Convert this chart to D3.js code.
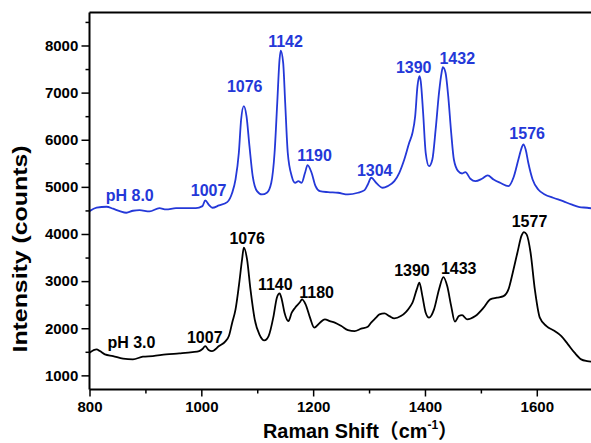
<!DOCTYPE html>
<html>
<head>
<meta charset="utf-8">
<script src="https://cdn.jsdelivr.net/npm/d3@7"></script>
<style>
  html, body { margin: 0; padding: 0; background: #ffffff; }
  svg { display: block; }
</style>
</head>
<body>
<svg id="chart" width="591" height="443"></svg>
<script>
// Raman spectra of the same sample at two pH values (shift in cm^-1, intensity in counts)
const shiftPH8 = [800, 812.7, 830.5, 842.2, 854.1, 866, 877.7, 889.6, 907.4, 925.1, 937, 954.7, 972.5, 990.2,
  1002, 1007, 1013.9, 1019.7, 1031.6, 1046.3, 1055.2, 1061.2, 1067.1, 1071.2, 1076, 1080.8, 1086.1, 1091.9,
  1099.6, 1108.4, 1117.3, 1125.1, 1131, 1135.8, 1139.9, 1142, 1146.4, 1150, 1154.6, 1161.7, 1167.7, 1173.6,
  1179.4, 1185.5, 1190, 1197.2, 1204.3, 1212.1, 1226.8, 1244.6, 1262.3, 1280.1, 1292, 1297.8, 1304, 1312.6,
  1324.5, 1333.3, 1345.2, 1354.1, 1363, 1371.8, 1377.7, 1382.5, 1386.6, 1390, 1392.4, 1396.7, 1401.3, 1407.3,
  1413.2, 1419.1, 1425.1, 1429.7, 1432, 1436.8, 1441.6, 1446.9, 1451.7, 1459.4, 1466.4, 1472.3, 1481.2, 1490.1,
  1501.9, 1512.1, 1522.7, 1534.4, 1549.3, 1558.2, 1567.1, 1572.9, 1576, 1580.1, 1584.8, 1592.5, 1602.6, 1614.3,
  1629.2, 1647, 1661.7, 1676.4, 1690.1, 1700];
const intensityPH8 = [4485, 4557, 4578, 4536, 4485, 4451, 4493, 4506, 4478, 4548, 4521, 4548, 4548, 4548,
  4591, 4712, 4612, 4557, 4606, 4676, 4875, 5157, 5723, 6430, 6712, 6500, 5863, 5227,
  4909, 4839, 4875, 5087, 5723, 6784, 7702, 7893, 7632, 6784, 5723, 5227, 5087, 5121,
  5087, 5299, 5460, 5299, 5015, 4909, 4888, 4875, 4839, 4875, 4930, 5051, 5193, 5087,
  4981, 5015, 5121, 5299, 5581, 5935, 6148, 6500, 7136, 7348, 7242, 6572, 5723, 5439,
  5581, 6218, 6996, 7420, 7539, 7420, 6924, 6148, 5581, 5333, 5284, 5312, 5172, 5121,
  5172, 5242, 5157, 5087, 5015, 5193, 5581, 5829, 5900, 5793, 5511, 5157, 4945, 4839,
  4769, 4697, 4627, 4570, 4557, 4540];

const shiftPH3 = [800, 812.7, 818.6, 827.5, 842.2, 860, 877.7, 895.5, 913.2, 937, 960.6, 984.2, 996.1, 1002,
  1007, 1013, 1019, 1031.6, 1043.5, 1049.3, 1055.2, 1061.2, 1067.1, 1072.9, 1076, 1081.8, 1087.9, 1095.5,
  1103.8, 1112.7, 1120.3, 1129.2, 1135.1, 1140, 1143.9, 1148.8, 1155.8, 1161.7, 1167.7, 1176.6, 1180, 1186.5,
  1194.4, 1202, 1212.1, 1221, 1229.8, 1238.7, 1250.4, 1262.3, 1274.2, 1285.9, 1297.8, 1303.7, 1312.6, 1318.6,
  1327.5, 1336.3, 1345.2, 1356.9, 1365.8, 1372.4, 1377.7, 1385.3, 1390, 1395.4, 1401.3, 1407.3, 1416.2, 1425.1,
  1433, 1439.8, 1446.9, 1453.5, 1460.6, 1466.4, 1475.3, 1490.1, 1504.9, 1516.7, 1528.6, 1540.5, 1549.3, 1557,
  1565.3, 1572.9, 1577, 1581.8, 1588.9, 1596.5, 1605.4, 1617.3, 1632, 1643.9, 1655.8, 1667.5, 1679.4, 1690.1, 1700];
const intensityPH3 = [1481, 1551, 1515, 1445, 1409, 1354, 1339, 1397, 1409, 1445, 1467, 1494, 1515, 1560,
  1621, 1537, 1515, 1621, 1727, 1834, 2118, 2400, 2894, 3460, 3709, 3460, 2824, 2188,
  1870, 1742, 1834, 2258, 2648, 2739, 2612, 2330, 2152, 2330, 2436, 2555, 2612, 2506,
  2224, 2012, 2118, 2188, 2152, 2118, 2046, 1961, 1940, 1991, 2033, 2118, 2224, 2294,
  2315, 2258, 2209, 2258, 2343, 2442, 2542, 2824, 2966, 2682, 2330, 2224, 2400, 2824,
  3085, 2894, 2470, 2139, 2258, 2279, 2188, 2258, 2436, 2612, 2648, 2682, 2824, 3178,
  3602, 3969, 4039, 3991, 3602, 2824, 2224, 2046, 1940, 1834, 1658, 1481, 1339, 1303, 1290];

// Peak positions marked on each spectrum
const peaksPH8 = [1007, 1076, 1142, 1190, 1304, 1390, 1432, 1576];
const peaksPH3 = [1007, 1076, 1140, 1180, 1390, 1433, 1577];
const seriesNames = ["pH 8.0", "pH 3.0"];

// Axis ticks
const xTicks = [800, 1000, 1200, 1400, 1600];
const xMinorTicks = [900, 1100, 1300, 1500, 1700];
const yTicks = [1000, 2000, 3000, 4000, 5000, 6000, 7000, 8000];
const yMinorTicks = [1500, 2500, 3500, 4500, 5500, 6500, 7500, 8500];

// ---- layout ----
const colors = { ph8: "#2438d8", ph3: "#000000" };
const plotLeft = 89.5, plotRight = 592.7, plotTop = 12.5, plotBottom = 389.5;
// label nudges (pixels) relative to each peak: [dx, height above peak]
const ph8LabelNudge = [[3.3, 4], [0.9, 14], [4.8, 4], [7, 4.5], [3.4, 1.5], [-5.7, 3.5], [14.4, 3], [3.8, 5]];
const ph3LabelNudge = [[-0.5, 3.5], [3.4, 3.5], [-4.3, 3.5], [14.7, 1.5], [-7.4, 6.5], [15.3, 3], [5.6, 5]];
const seriesLabelAt = [[872, 4690], [875, 1574]];

const svg = d3.select("#chart");
const x = d3.scaleLinear().domain([800, 1700]).range([plotLeft, plotRight]);
const y = d3.scaleLinear().domain([700, 8700]).range([plotBottom, plotTop]);

svg.append("defs").append("clipPath").attr("id", "plot-clip")
  .append("rect").attr("x", plotLeft).attr("y", plotTop)
  .attr("width", plotRight - plotLeft).attr("height", plotBottom - plotTop);

const line = d3.line().curve(d3.curveMonotoneX).x(d => x(d[0])).y(d => y(d[1]));
const ph8 = shiftPH8.map((s, i) => [s, intensityPH8[i]]);
const ph3 = shiftPH3.map((s, i) => [s, intensityPH3[i]]);

const plot = svg.append("g").attr("clip-path", "url(#plot-clip)");
plot.append("path").datum(ph8).attr("d", line)
  .attr("fill", "none").attr("stroke", colors.ph8).attr("stroke-width", 1.8).attr("stroke-linejoin", "round");
plot.append("path").datum(ph3).attr("d", line)
  .attr("fill", "none").attr("stroke", colors.ph3).attr("stroke-width", 1.8).attr("stroke-linejoin", "round");

// ---- axes ----
const tickFont = "'Liberation Sans', Arial, sans-serif";
const xAxis = svg.append("g").attr("transform", `translate(0,${plotBottom})`)
  .call(d3.axisBottom(x).tickValues(xTicks).tickSize(7).tickPadding(5.2).tickFormat(d3.format("d")));
svg.append("g").attr("transform", `translate(0,${plotBottom})`)
  .call(d3.axisBottom(x).tickValues(xMinorTicks).tickSize(4).tickFormat(""))
  .call(g => g.select(".domain").remove());
const yAxis = svg.append("g").attr("transform", `translate(${plotLeft},0)`)
  .call(d3.axisLeft(y).tickValues(yTicks).tickSize(8).tickPadding(3.2).tickFormat(d3.format("d")));
svg.append("g").attr("transform", `translate(${plotLeft},0)`)
  .call(d3.axisLeft(y).tickValues(yMinorTicks).tickSize(4).tickFormat(""))
  .call(g => g.select(".domain").remove());

svg.selectAll(".tick line").attr("stroke", "#000").attr("stroke-width", 1.5);
[xAxis, yAxis].forEach(a => {
  a.select(".domain").attr("stroke", "#000").attr("stroke-width", 2);
  a.selectAll("text").attr("font-family", tickFont).attr("font-weight", "bold")
    .attr("font-size", 15).attr("fill", "#000");
});
xAxis.select(".domain").attr("d", `M${plotLeft},0H${plotRight + 5}`);
yAxis.select(".domain").attr("d", `M0,${plotBottom}V${plotTop}`);

// top frame edge
svg.append("line").attr("x1", plotLeft).attr("x2", plotRight + 5).attr("y1", plotTop).attr("y2", plotTop)
  .attr("stroke", "#000").attr("stroke-width", 2);

// ---- peak annotations ----
function valueAt(shifts, values, s) {
  return values[shifts.indexOf(s)];
}
function annotate(peaks, nudges, shifts, values, color) {
  svg.append("g").selectAll("text").data(peaks).join("text")
    .attr("x", (d, i) => x(d) + nudges[i][0])
    .attr("y", (d, i) => y(valueAt(shifts, values, d)) - nudges[i][1])
    .attr("text-anchor", "middle")
    .attr("font-family", tickFont).attr("font-weight", "bold").attr("font-size", 16)
    .attr("fill", color)
    .text(d => d);
}
annotate(peaksPH8, ph8LabelNudge, shiftPH8, intensityPH8, colors.ph8);
annotate(peaksPH3, ph3LabelNudge, shiftPH3, intensityPH3, colors.ph3);

svg.append("g").selectAll("text").data(seriesNames).join("text")
  .attr("x", (d, i) => x(seriesLabelAt[i][0]))
  .attr("y", (d, i) => y(seriesLabelAt[i][1]))
  .attr("text-anchor", "middle")
  .attr("font-family", tickFont).attr("font-weight", "bold").attr("font-size", 16)
  .attr("fill", (d, i) => i === 0 ? colors.ph8 : colors.ph3)
  .text(d => d);

// ---- axis titles ----
svg.append("text")
  .attr("transform", "translate(27,249) rotate(-90)")
  .attr("text-anchor", "middle")
  .attr("font-family", tickFont).attr("font-weight", "bold").attr("font-size", 20)
  .attr("textLength", 207).attr("lengthAdjust", "spacingAndGlyphs")
  .text("Intensity (counts)");

// x title: left edge at 263, about 195px of advance including the closing bracket's side bearing
const titleLeft = 263, titleWidth = 195;
const xt = svg.append("text").attr("x", titleLeft).attr("y", 438)
  .attr("font-family", tickFont).attr("font-weight", "bold").attr("font-size", 20);
xt.append("tspan").text("Raman Shift");
xt.append("tspan").attr("font-family", "'Noto Sans CJK SC', sans-serif").text("（");
xt.append("tspan").text("cm");
xt.append("tspan").attr("font-size", 12).attr("dy", -9).text("-1");
xt.append("tspan").attr("dy", 9).attr("font-family", "'Noto Sans CJK SC', sans-serif").text("）");
let bb = xt.node().getBBox();
const fs = 20 * Math.min(1.1, Math.max(0.85, titleWidth / bb.width));
xt.attr("font-size", fs);
bb = xt.node().getBBox();
xt.attr("x", titleLeft + (titleLeft - bb.x));
</script>
</body>
</html>
